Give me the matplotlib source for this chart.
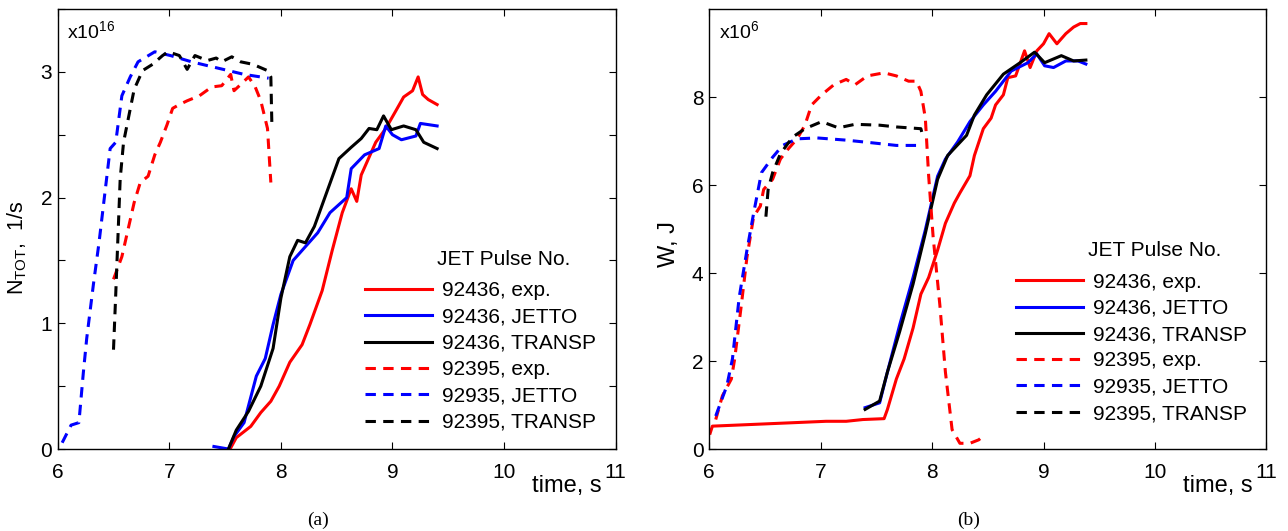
import numpy as np
import matplotlib
matplotlib.use('Agg')
import matplotlib.pyplot as plt
from matplotlib.ticker import FixedLocator, FuncFormatter

plt.rcParams['font.family'] = ['Liberation Sans', 'DejaVu Sans']
plt.rcParams['mathtext.fontset'] = 'custom'
plt.rcParams['mathtext.rm'] = 'Liberation Sans'
plt.rcParams['mathtext.it'] = 'Liberation Sans'

# %% data: panel (a) neutron rate, units of 1e16 1/s
t_a_exp436 = [7.545, 7.6, 7.73, 7.82, 7.91, 7.985, 8.08, 8.19, 8.26, 8.37, 8.46, 8.55, 8.63, 8.68, 8.72,
              8.77, 8.85, 8.94, 9.03, 9.10, 9.18, 9.23, 9.27, 9.32, 9.40]
n_a_exp436 = [0.0, 0.09, 0.18, 0.29, 0.38, 0.5, 0.69, 0.83, 0.99, 1.26, 1.58, 1.88, 2.07, 1.97, 2.18,
              2.28, 2.44, 2.55, 2.69, 2.80, 2.85, 2.96, 2.82, 2.78, 2.74]
t_a_jet436 = [7.40, 7.53, 7.58, 7.67, 7.78, 7.86, 7.93, 8.0, 8.11, 8.22, 8.33, 8.44, 8.59, 8.63, 8.75,
              8.88, 8.94, 9.0, 9.08, 9.21, 9.25, 9.40]
n_a_jet436 = [0.02, 0.0, 0.10, 0.21, 0.58, 0.72, 0.99, 1.23, 1.50, 1.61, 1.72, 1.88, 2.0, 2.23, 2.34,
              2.39, 2.57, 2.50, 2.46, 2.49, 2.59, 2.57]
t_a_tra436 = [7.53, 7.6, 7.71, 7.82, 7.93, 8.0, 8.08, 8.15, 8.22, 8.30, 8.41, 8.52, 8.63, 8.72, 8.79,
              8.86, 8.92, 8.99, 9.10, 9.21, 9.28, 9.40]
n_a_tra436 = [0.0, 0.15, 0.30, 0.50, 0.80, 1.2, 1.53, 1.66, 1.64, 1.77, 2.04, 2.31, 2.40, 2.47, 2.55,
              2.54, 2.65, 2.54, 2.57, 2.54, 2.44, 2.39]
t_a_exp395 = [6.5, 6.575, 6.685, 6.74, 6.81, 6.87, 6.92, 6.98, 7.03, 7.09, 7.16, 7.27, 7.38, 7.47, 7.55,
              7.58, 7.64, 7.71, 7.77, 7.82, 7.88, 7.91]
n_a_exp395 = [1.35, 1.53, 1.96, 2.12, 2.17, 2.34, 2.44, 2.58, 2.71, 2.74, 2.77, 2.81, 2.88, 2.89, 2.98,
              2.85, 2.90, 2.96, 2.88, 2.77, 2.55, 2.12]
t_a_jet395 = [6.04, 6.12, 6.19, 6.23, 6.26, 6.32, 6.37, 6.43, 6.47, 6.52, 6.575, 6.65, 6.72, 6.87, 7.01,
              7.2, 7.34, 7.53, 7.67, 7.89]
n_a_jet395 = [0.05, 0.19, 0.21, 0.61, 0.88, 1.31, 1.64, 2.09, 2.39, 2.44, 2.81, 2.96, 3.08, 3.16, 3.13,
              3.08, 3.05, 3.01, 2.98, 2.95]
t_a_tra395 = [6.5, 6.52, 6.56, 6.59, 6.685, 6.76, 6.85, 6.94, 6.99, 7.09, 7.16, 7.23, 7.34, 7.42, 7.47,
              7.56, 7.64, 7.75, 7.88, 7.91, 7.92]
n_a_tra395 = [0.79, 1.23, 2.15, 2.44, 2.86, 3.01, 3.06, 3.13, 3.16, 3.13, 3.02, 3.13, 3.09, 3.11, 3.08,
              3.12, 3.08, 3.06, 3.01, 2.96, 2.55]

# %% data: panel (b) stored energy, units of 1e6 J
t_b_exp436 = [6.01, 6.03, 6.31, 6.68, 7.05, 7.23, 7.38, 7.57, 7.6, 7.68, 7.75, 7.83, 7.9, 7.97, 8.05,
              8.12, 8.2, 8.25, 8.34, 8.38, 8.46, 8.53, 8.57, 8.64, 8.68, 8.75, 8.83, 8.88, 8.94, 9.0,
              9.05, 9.12, 9.2, 9.27, 9.33, 9.38]
w_b_exp436 = [0.36, 0.52, 0.55, 0.59, 0.63, 0.63, 0.67, 0.69, 0.9, 1.59, 2.05, 2.75, 3.52, 3.9, 4.52,
              5.13, 5.59, 5.82, 6.21, 6.67, 7.28, 7.52, 7.82, 8.05, 8.44, 8.48, 9.05, 8.67, 9.05, 9.21,
              9.44, 9.21, 9.44, 9.59, 9.67, 9.67]
t_b_jet436 = [7.40, 7.53, 7.6, 7.71, 7.83, 7.94, 8.05, 8.12, 8.23, 8.34, 8.46, 8.57, 8.71, 8.86, 8.94,
              9.01, 9.09, 9.2, 9.31, 9.38]
w_b_jet436 = [0.94, 1.05, 1.75, 2.82, 3.9, 4.98, 6.2, 6.59, 6.98, 7.44, 7.82, 8.13, 8.59, 8.78, 8.98,
              8.71, 8.67, 8.82, 8.82, 8.75]
t_b_tra436 = [7.40, 7.53, 7.6, 7.71, 7.83, 7.94, 8.05, 8.14, 8.31, 8.38, 8.49, 8.64, 8.79, 8.92, 9.01,
              9.16, 9.27, 9.38]
w_b_tra436 = [0.9, 1.09, 1.75, 2.67, 3.75, 4.9, 6.13, 6.67, 7.13, 7.59, 8.05, 8.52, 8.78, 9.02, 8.78,
              8.94, 8.82, 8.84]
t_b_exp395 = [6.06, 6.12, 6.2, 6.23, 6.29, 6.34, 6.4, 6.46, 6.49, 6.57, 6.64, 6.71, 6.79, 6.86, 6.92,
              7.01, 7.12, 7.23, 7.31, 7.42, 7.57, 7.68, 7.79, 7.86, 7.9, 7.94, 7.97, 8.01, 8.07, 8.12,
              8.18, 8.25, 8.34, 8.42, 8.47]
w_b_exp395 = [0.67, 1.21, 1.59, 2.05, 3.28, 4.36, 5.28, 5.52, 5.9, 6.13, 6.59, 6.82, 7.05, 7.36, 7.82,
              8.05, 8.28, 8.4, 8.28, 8.48, 8.55, 8.48, 8.36, 8.36, 8.13, 7.52, 6.2, 4.82, 3.28, 1.75,
              0.44, 0.13, 0.13, 0.21, 0.32]
t_b_jet395 = [6.06, 6.16, 6.21, 6.27, 6.34, 6.4, 6.47, 6.57, 6.66, 6.79, 6.97, 7.23, 7.46, 7.68, 7.9]
w_b_jet395 = [0.75, 1.44, 2.05, 3.44, 4.52, 5.36, 6.28, 6.63, 6.9, 7.05, 7.07, 7.02, 6.96, 6.9, 6.9]
t_b_tra395 = [6.51, 6.53, 6.57, 6.64, 6.75, 6.86, 7.01, 7.16, 7.31, 7.53, 7.68, 7.79, 7.9, 7.92]
w_b_tra395 = [5.28, 5.9, 6.28, 6.71, 7.09, 7.28, 7.44, 7.3, 7.38, 7.36, 7.32, 7.3, 7.28, 7.09]

labels = ['92436, exp.', '92436, JETTO', '92436, TRANSP', '92395, exp.', '92935, JETTO', '92395, TRANSP']
colors = ['#ff0000', '#0000ff', '#000000']

# %%
fig = plt.figure(figsize=(12.88, 5.31), dpi=100)
ax1 = fig.add_axes([0.0448, 0.1544, 0.4332, 0.8286])
ax2 = fig.add_axes([0.5505, 0.1544, 0.4328, 0.8286])

lw = 2.2
dash = (3.4, 2.4)


def draw(ax, solid, dashed, leg_y, title_y):
    for (t, v), c, lab in zip(solid, colors, labels[:3]):
        ax.plot(t, v, color=c, lw=lw, label=lab)
    for (t, v), c, lab in zip(dashed, colors, labels[3:]):
        ax.plot(t, v, color=c, lw=lw, dashes=dash, label=lab)
    ax.set_xlim(6, 11)
    ax.set_xticks([6, 7, 8, 9, 10, 11])
    ax.tick_params(direction='in', top=True, right=True, labelsize=15, length=5)
    ax.tick_params(axis='x', pad=10)
    ax.tick_params(axis='y', pad=4)
    ax.legend(loc='upper left', bbox_to_anchor=(0.551, leg_y), frameon=False, fontsize=15,
              handlelength=3.2, handletextpad=0.5, labelspacing=0.35, borderpad=0, borderaxespad=0)
    ax.text(0.68, title_y, 'JET Pulse No.', transform=ax.transAxes, ha='left', va='center', fontsize=15)
    ax.text(0.975, -0.06, 'time, s', transform=ax.transAxes, ha='right', va='top', fontsize=17)
    for s in ax.spines.values():
        s.set_linewidth(1.0)


draw(ax1, [(t_a_exp436, n_a_exp436), (t_a_jet436, n_a_jet436), (t_a_tra436, n_a_tra436)],
     [(t_a_exp395, n_a_exp395), (t_a_jet395, n_a_jet395), (t_a_tra395, n_a_tra395)], 0.381, 0.43)
ax1.set_ylim(0, 3.5)
ax1.yaxis.set_major_locator(FixedLocator(np.arange(0, 3.51, 0.5)))
ax1.yaxis.set_major_formatter(FuncFormatter(lambda v, p: '%d' % v if abs(v - round(v)) < 1e-6 and v < 3.4 else ''))
ax1.set_ylabel(r'N$_{\mathrm{TOT}}$,  1/s', fontsize=15.5)
ax1.yaxis.set_label_coords(-0.052, 0.457)
ax1.text(0.017, 0.975, r'x10$^{16}$', transform=ax1.transAxes, ha='left', va='top', fontsize=14)
fig.text(318 / 1288, 1 - 520 / 531, '(a)', ha='center', va='center', fontsize=14, family='Liberation Serif')

draw(ax2, [(t_b_exp436, w_b_exp436), (t_b_jet436, w_b_jet436), (t_b_tra436, w_b_tra436)],
     [(t_b_exp395, w_b_exp395), (t_b_jet395, w_b_jet395), (t_b_tra395, w_b_tra395)], 0.401, 0.452)
ax2.set_ylim(0, 10)
ax2.set_yticks([0, 2, 4, 6, 8])
ax2.set_ylabel('W, J', fontsize=17)
ax2.yaxis.set_label_coords(-0.052, 0.465)
ax2.text(0.017, 0.975, r'x10$^{6}$', transform=ax2.transAxes, ha='left', va='top', fontsize=14)
fig.text(969 / 1288, 1 - 520 / 531, '(b)', ha='center', va='center', fontsize=14, family='Liberation Serif')

plt.savefig('out.png', dpi=100)
